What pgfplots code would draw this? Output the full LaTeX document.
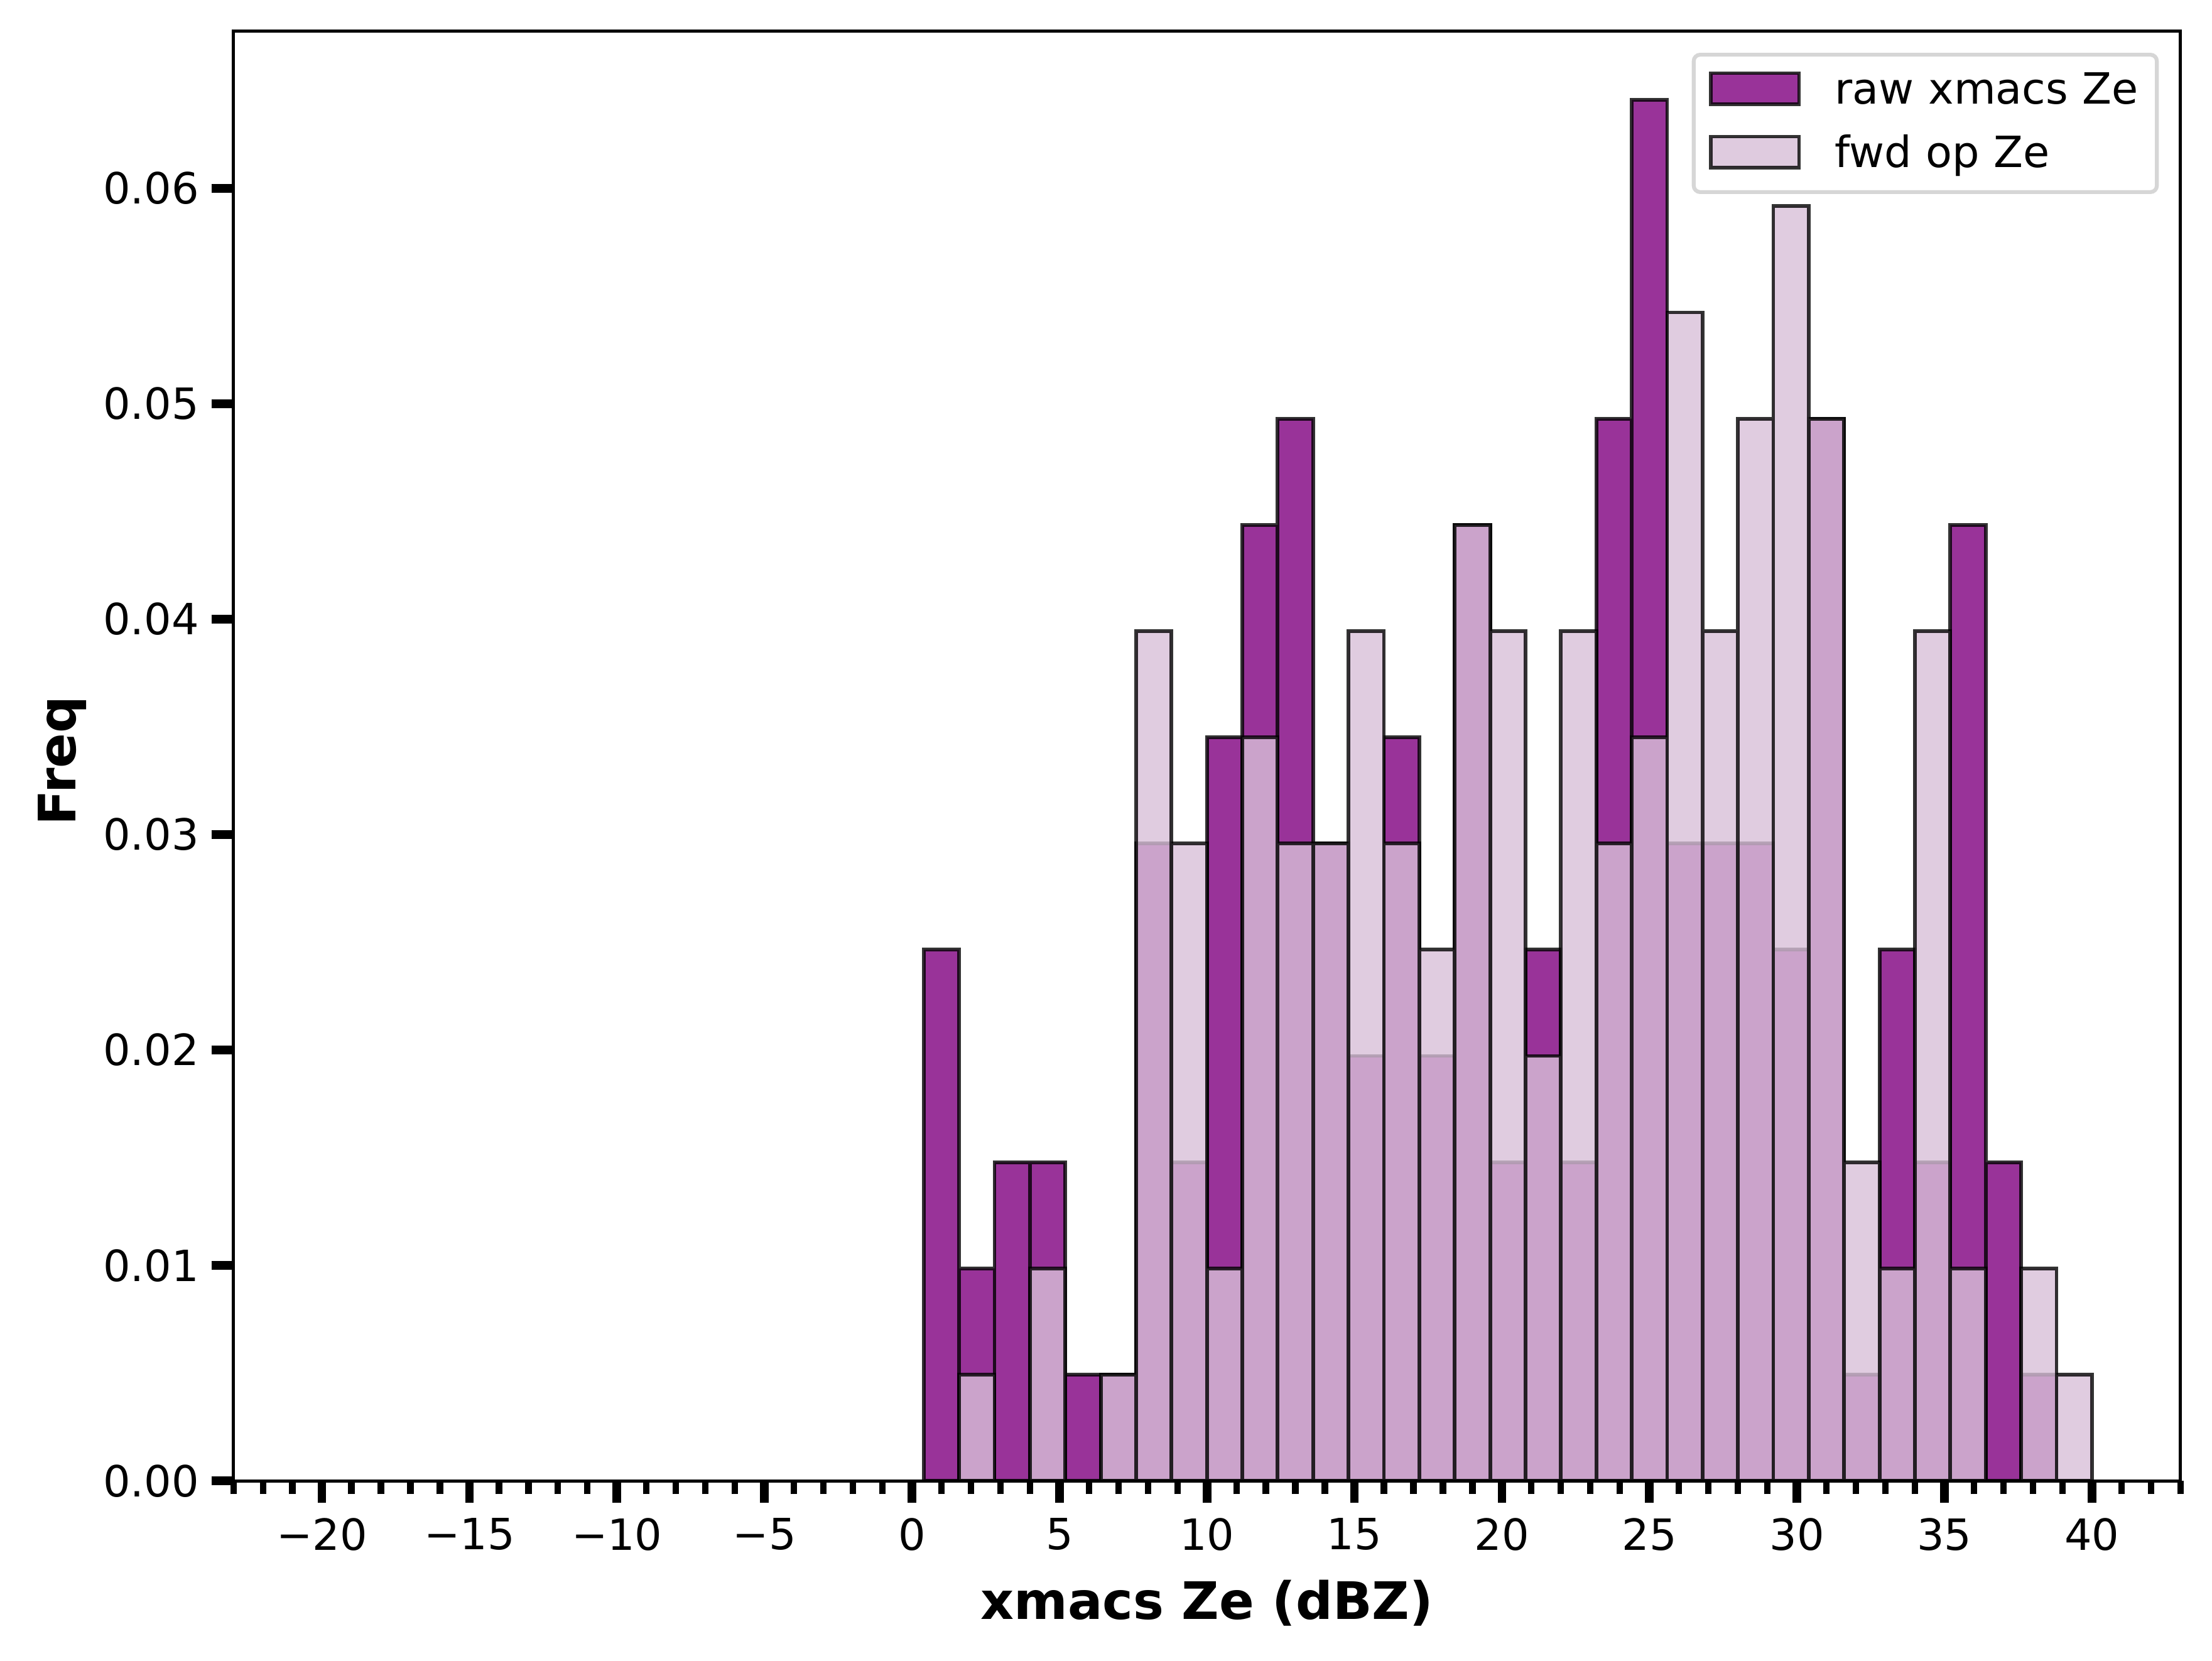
\documentclass[border=0pt]{standalone}
\usepackage{fontspec}
\setmainfont{DejaVu Sans}
\usepackage{pgfplots}
\pgfplotsset{compat=1.18}
\usepackage{pgfplotstable}
\definecolor{rawc}{RGB}{128,0,128}
\definecolor{fwdc}{RGB}{216,191,216}
\definecolor{legframe}{RGB}{214,214,214}
\pgfplotsset{patchlegend/.style={legend image code/.code={\draw[##1, sharp corners] (0pt,-2.9pt) rectangle (20.45pt,4.3pt);}}}

\pgfplotstableread{
x y
1.0 0.024655
2.2 0.009862
3.4 0.014793
4.6 0.014793
5.8 0.004931
7.0 0.004931
8.2 0.029586
9.4 0.014793
10.6 0.034517
11.8 0.044379
13.0 0.049310
14.2 0.029586
15.4 0.019724
16.6 0.034517
17.8 0.019724
19.0 0.044379
20.2 0.014793
21.4 0.024655
22.6 0.014793
23.8 0.049310
25.0 0.064103
26.2 0.029586
27.4 0.029586
28.6 0.029586
29.8 0.024655
31.0 0.049310
32.2 0.004931
33.4 0.024655
34.6 0.014793
35.8 0.044379
37.0 0.014793
38.2 0.004931
}\rawtable

\pgfplotstableread{
x y
2.2 0.004931
4.6 0.009862
7.0 0.004931
8.2 0.039448
9.4 0.029586
10.6 0.009862
11.8 0.034517
13.0 0.029586
14.2 0.029586
15.4 0.039448
16.6 0.029586
17.8 0.024655
19.0 0.044379
20.2 0.039448
21.4 0.019724
22.6 0.039448
23.8 0.029586
25.0 0.034517
26.2 0.054241
27.4 0.039448
28.6 0.049310
29.8 0.059172
31.0 0.049310
32.2 0.014793
33.4 0.009862
34.6 0.039448
35.8 0.009862
38.2 0.009862
39.4 0.004931
}\fwdtable

\begin{document}
\begin{tikzpicture}
\begin{axis}[
  at={(0pt,0pt)}, anchor=south west,
  scale only axis, width=452.55pt, height=337.04pt,
  xmin=-23, xmax=43, ymin=0, ymax=0.067308,
  axis on top,
  axis line style={line width=0.7pt, black},
  tick align=outside, tick pos=left,
  xtick={-20,-15,...,40},
  xticklabels={−20,−15,−10,−5,0,5,10,15,20,25,30,35,40},
  minor xtick={-23,-22,...,43},
  ytick={0,0.01,0.02,0.03,0.04,0.05,0.06},
  yticklabels={0.00,0.01,0.02,0.03,0.04,0.05,0.06},
  major tick length=5.1pt, minor tick length=3.1pt,
  major tick style={line width=2pt, black},
  minor tick style={line width=1.5pt, black},
  xticklabel style={font=\fontsize{10}{12}\selectfont, inner sep=0pt, anchor=north, yshift=-3.4pt},
  yticklabel style={font=\fontsize{10}{12}\selectfont, inner sep=0pt, anchor=east, xshift=-2.7pt},
  xlabel={xmacs Ze (dBZ)}, ylabel={Freq},
  every axis x label/.style={at={(axis description cs:0.5,-0.09525)}, anchor=base, font=\fontsize{12}{14.4}\selectfont\bfseries},
  every axis y label/.style={at={(axis description cs:-0.08097,0.4965)}, rotate=90, anchor=base, font=\fontsize{12}{14.4}\selectfont\bfseries},
  legend cell align=left,
  legend style={
    at={(axis description cs:1,1)}, anchor=north east,
    xshift=-5.02pt, yshift=-5.07pt,
    draw=legframe, line width=0.9pt, rounded corners=1.5pt, fill=white,
    inner xsep=3.6pt, inner ysep=3.6pt,
    row sep=4.74pt,
    font=\fontsize{10}{12}\selectfont,
    nodes={inner sep=0pt, text height=7.9pt, text depth=2.1pt, text width=71.25pt},
    /tikz/every odd column/.style={column sep=7.9pt},
  },
]
\addplot[ybar, bar shift=0pt, bar width=1.2, fill=rawc, fill opacity=0.8, draw=black, draw opacity=0.8, line width=0.85pt, patchlegend]
  table[x=x, y=y] {\rawtable};
\addlegendentry{raw xmacs Ze}
\addplot[ybar, bar shift=0pt, bar width=1.2, fill=fwdc, fill opacity=0.8, draw=black, draw opacity=0.8, line width=0.85pt, patchlegend]
  table[x=x, y=y] {\fwdtable};
\addlegendentry{fwd op Ze}
\end{axis}
\pgfresetboundingbox
\path[use as bounding box] (-54.26pt,-41.75pt) rectangle (459.89pt,344.24pt);
\end{tikzpicture}
\end{document}
